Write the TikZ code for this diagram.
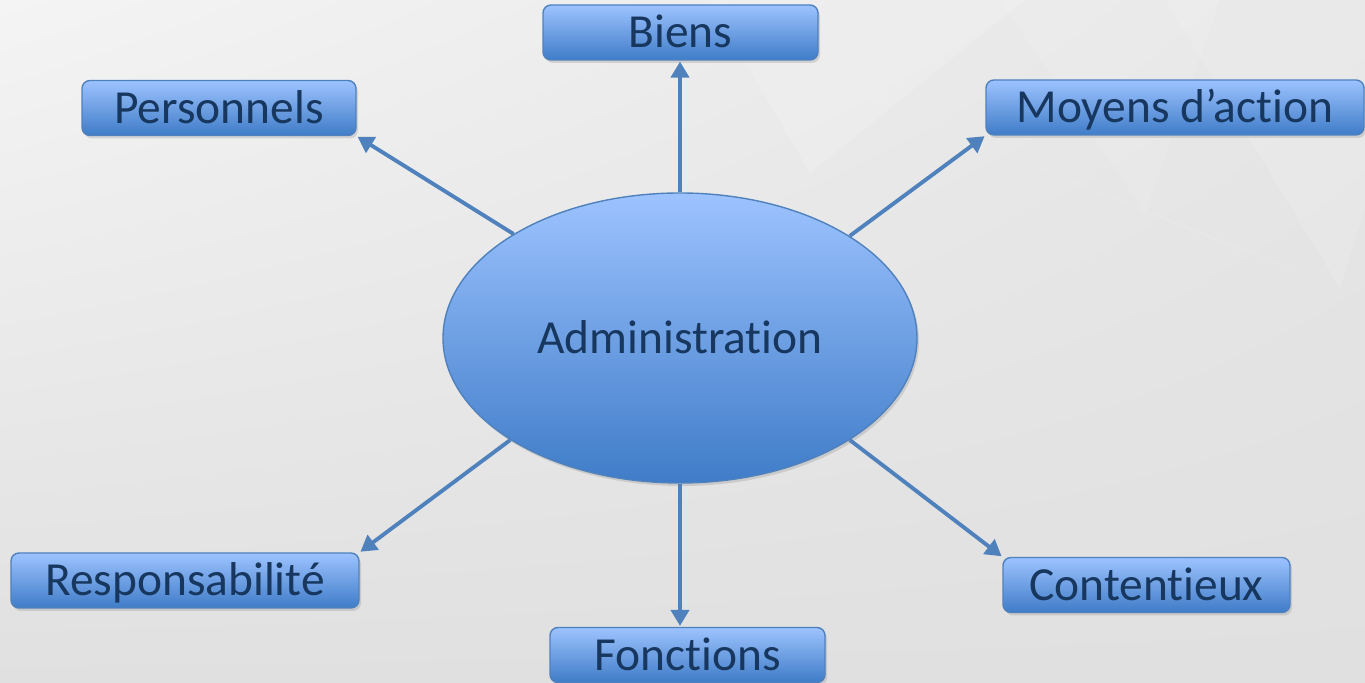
\documentclass[tikz,border=0pt]{standalone}
\usepackage{fontspec}
\setmainfont{Carlito}[Ligatures={NoCommon,NoRare}]
\usetikzlibrary{arrows.meta,shapes.geometric,shadows,shadings}
\definecolor{bleuhaut}{HTML}{9DC3FF}
\definecolor{bleubas}{HTML}{3F7CC8}
\definecolor{bleutrait}{HTML}{4F81BD}
\definecolor{texte}{HTML}{17375E}
\definecolor{fondclair}{HTML}{F4F4F4}
\definecolor{fondmoyen}{HTML}{E6E6E6}
\definecolor{fondfonce}{HTML}{E0E0E0}
\begin{document}
\begin{tikzpicture}[
	boite/.style={draw=bleutrait, line width=0.8pt, rounded corners=0.16cm,
		top color=bleuhaut, bottom color=bleubas, text=texte,
		minimum height=1.1cm, inner sep=0pt, font=\fontsize{27}{27}\selectfont,
		text height=17.4pt, text depth=0pt,
		drop shadow={opacity=0.25, shadow xshift=0.04cm, shadow yshift=-0.06cm}},
	fleche/.style={draw=bleutrait, line width=2.2pt,
		-{Triangle[length=0.32cm, width=0.36cm]}, shorten >=0.5pt}
	]
	% Background
	\useasboundingbox (0,0) rectangle (27.3,13.66);
	\shade[upper left=fondclair, upper right=fondmoyen,
		lower left=fondfonce, lower right=fondfonce]
		(0,0) rectangle (27.3,13.66);
	\fill[white, opacity=0.15] (14.2,13.66) -- (16.2,10.2) -- (20.5,13.66) -- cycle;
	\fill[white, opacity=0.12] (23.3,13.66) -- (26.8,7.9) -- (27.3,9.5) -- (27.3,13.66) -- cycle;
	\fill[white, opacity=0.1] (20.0,13.66) -- (22.9,9.4) -- (24.4,13.66) -- cycle;
	\fill[white, opacity=0.08] (15.5,12.5) -- (26.8,7.9) -- (22.9,9.4) -- cycle;

	% Centre
	\node[ellipse, draw=bleutrait, line width=0.8pt, top color=bleuhaut, bottom color=bleubas,
		minimum width=9.48cm, minimum height=5.8cm, inner sep=0pt, text=texte,
		font=\fontsize{27}{27}\selectfont, text height=17.4pt, text depth=0pt,
		drop shadow={opacity=0.25, shadow xshift=0.04cm, shadow yshift=-0.06cm}]
		(adm) at (13.6,6.9) {Administration};

	% Branches
	\node[boite, minimum width=5.5cm] (biens) at (13.61,13.01) {Biens};
	\node[boite, minimum width=5.48cm] (pers) at (4.38,11.5) {Personnels};
	\node[boite, minimum width=7.56cm] (moyens) at (23.5,11.51) {Moyens d’action};
	\node[boite, minimum width=6.96cm] (resp) at (3.7,2.05) {Responsabilité};
	\node[boite, minimum width=5.5cm] (fonct) at (13.75,0.56) {Fonctions};
	\node[boite, minimum width=5.74cm] (cont) at (22.93,1.96) {Contentieux};

	% Arrows
	\draw[fleche] (adm.north) -- (adm.north |- biens.south);
	\draw[fleche] (adm.148.8) -- (pers.south east);
	\draw[fleche] (adm.31.2) -- (moyens.south west);
	\draw[fleche] (adm.211.2) -- (resp.north east);
	\draw[fleche] (adm.south) -- (adm.south |- fonct.north);
	\draw[fleche] (adm.-31.2) -- (cont.north west);
\end{tikzpicture}
\end{document}
